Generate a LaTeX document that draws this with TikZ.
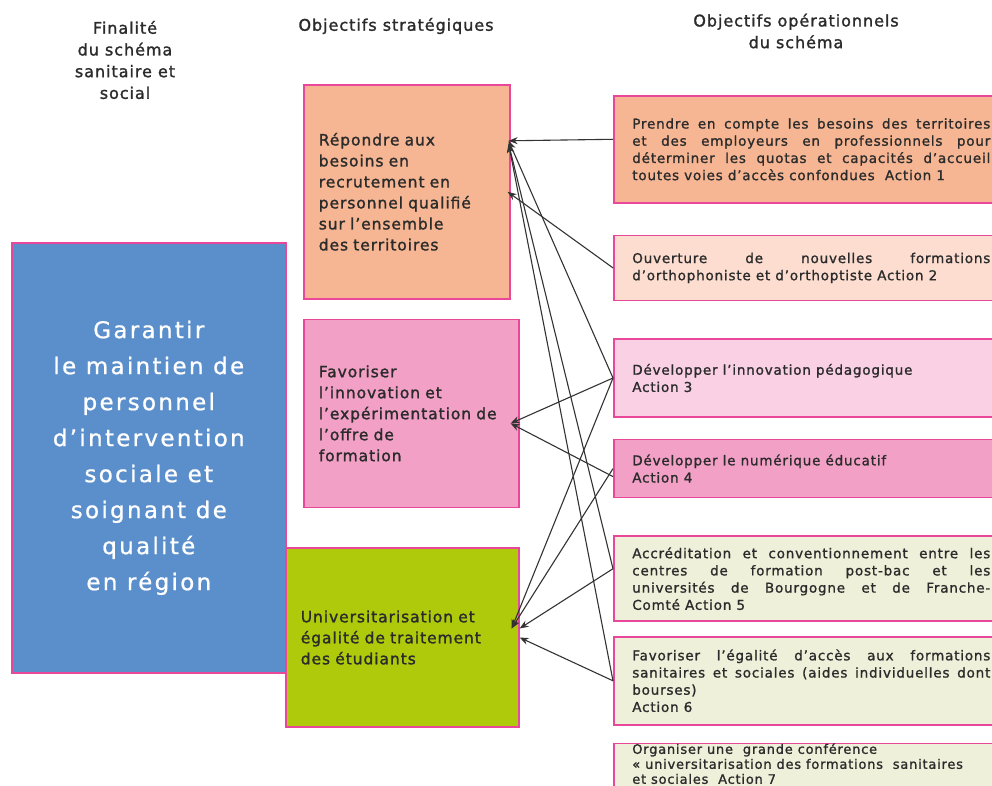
\documentclass[tikz,border=0pt]{standalone}
\usepackage{fontspec}
\setmainfont{DejaVu Sans}[LetterSpace=6, FakeBold=1.2]
\newfontfamily\headface{DejaVu Sans}[LetterSpace=6, FakeBold=1.5]
\newfontfamily\goalface{DejaVu Sans}[LetterSpace=10, FakeBold=0.8]
\usetikzlibrary{positioning, arrows.meta}

\definecolor{pinkline}{HTML}{E8479A}
\definecolor{goalblue}{HTML}{5B8FCB}
\definecolor{peach}{HTML}{F6B693}
\definecolor{rose}{HTML}{F2A0C6}
\definecolor{lime}{HTML}{AFCA0B}
\definecolor{lightpeach}{HTML}{FCDDD0}
\definecolor{lightrose}{HTML}{F9D0E4}
\definecolor{lightolive}{HTML}{EEF0D9}
\definecolor{textgray}{HTML}{2B2B2B}
\definecolor{linegray}{HTML}{333333}

\begin{document}
\begin{tikzpicture}[
    x = 1pt, y = -1pt,
    box/.style = {rectangle, draw=pinkline, line width=1.6pt, anchor=north west, text=textgray},
    goal/.style = {box, fill=goalblue, text=white, align=center, font=\goalface\fontsize{23}{36}\selectfont},
    strat/.style = {box, align=left, inner xsep=15pt, font=\headface\fontsize{15.5}{21}\selectfont},
    action/.style = {box, align=justify, inner xsep=18pt, inner ysep=3pt, minimum width=395pt, text width=358pt, font=\fontsize{13.5}{17.2}\selectfont},
    head/.style = {align=center, text=textgray, font=\headface\fontsize{16}{21.7}\selectfont},
    link/.style = {draw=linegray, line width=1.1pt, -{Stealth[length=9pt, width=7pt]}}
]
    \path[use as bounding box, clip] (0,0) rectangle (992,786);

% Headers
    \node[head] (hgoal) at (125,60) {Finalité\\du schéma\\sanitaire et\\social};
    \node[head] (hstrat) at (396,26) {Objectifs stratégiques};
    \node[head] (hact) at (796,31) {Objectifs opérationnels\\du schéma};

% Finalité
    \node[goal, minimum width=274pt, minimum height=430pt] (gbox) at (11,242)
        {Garantir\\le maintien de\\personnel\\d’intervention\\sociale et\\soignant de\\qualité\\en région};

% Objectifs stratégiques
    \node[strat, fill=peach, minimum width=206pt, minimum height=214pt, text width=176pt] (ob1) at (303,84)
        {Répondre aux\\besoins en\\recrutement en\\personnel qualifié\\sur l’ensemble\\des territoires};
    \node[strat, fill=rose, minimum width=215pt, minimum height=188pt, text width=185pt,
        below=19pt of ob1.south west, anchor=north west] (ob2)
        {Favoriser\\l’innovation et\\l’expérimentation de\\l’offre de\\formation};
    \node[strat, fill=lime, minimum width=233pt, minimum height=179pt, text width=203pt,
        below=39pt of ob2.south west, anchor=north west, xshift=-18pt] (ob3)
        {Universitarisation et\\égalité de traitement\\des étudiants};

% Objectifs opérationnels
    \node[action, fill=peach, minimum height=107pt] (act1) at (613,95)
        {Prendre en compte les besoins des territoires\linebreak et des employeurs en professionnels pour\linebreak déterminer les quotas et capacités d’accueil\linebreak toutes voies d’accès confondues~ Action 1};
    \node[action, fill=lightpeach, minimum height=65pt, below=31pt of act1.south west, anchor=north west] (act2)
        {Ouverture de nouvelles formations\linebreak d’orthophoniste et d’orthoptiste Action 2};
    \node[action, fill=lightrose, minimum height=78pt, below=37pt of act2.south west, anchor=north west] (act3)
        {Développer l’innovation pédagogique\\Action 3};
    \node[action, fill=rose, minimum height=58pt, below=21pt of act3.south west, anchor=north west] (act4)
        {Développer le numérique éducatif\\Action 4};
    \node[action, fill=lightolive, minimum height=85pt, below=37pt of act4.south west, anchor=north west] (act5)
        {Accréditation et conventionnement entre les\linebreak centres de formation post-bac et les\linebreak universités de Bourgogne et de Franche-\linebreak Comté Action 5};
    \node[action, fill=lightolive, minimum height=88pt, below=14pt of act5.south west, anchor=north west] (act6)
        {Favoriser l’égalité d’accès aux formations\linebreak sanitaires et sociales (aides individuelles dont\linebreak bourses)\\Action 6};
    \node[action, fill=lightolive, below=17pt of act6.south west, anchor=north west, inner ysep=0pt,
        font=\fontsize{13}{15}\selectfont] (act7)
        {Organiser une~ grande conférence\\« universitarisation des formations~ sanitaires\\et sociales~ Action 7\\[14pt]};

% Arrows
    \draw[link] ([yshift=10pt]act1.west) -- ([xshift=-2pt, yshift=51pt]ob1.east);
    \draw[link] (act2.west) -- ([xshift=-3pt]ob1.east);
    \draw[link] (act3.west) -- ([xshift=-2pt, yshift=51pt]ob1.east);
    \draw[link] ([yshift=10pt]act5.west) -- ([xshift=-2pt, yshift=48pt]ob1.east);
    \draw[link] (act6.west) -- ([xshift=-2pt, yshift=48pt]ob1.east);
    \draw[link] (act3.west) -- ([xshift=-9pt, yshift=-10pt]ob2.east);
    \draw[link] ([yshift=-8pt]act4.west) -- ([xshift=-9pt, yshift=-10pt]ob2.east);
    \draw[link] (act3.west) -- ([xshift=-8pt, yshift=9pt]ob3.east);
    \draw[link] (act4.west) -- ([xshift=-8pt, yshift=9pt]ob3.east);
    \draw[link] ([yshift=10pt]act5.west) -- ([yshift=9pt]ob3.east);
    \draw[link] (act6.west) -- (ob3.east);
\end{tikzpicture}
\end{document}
